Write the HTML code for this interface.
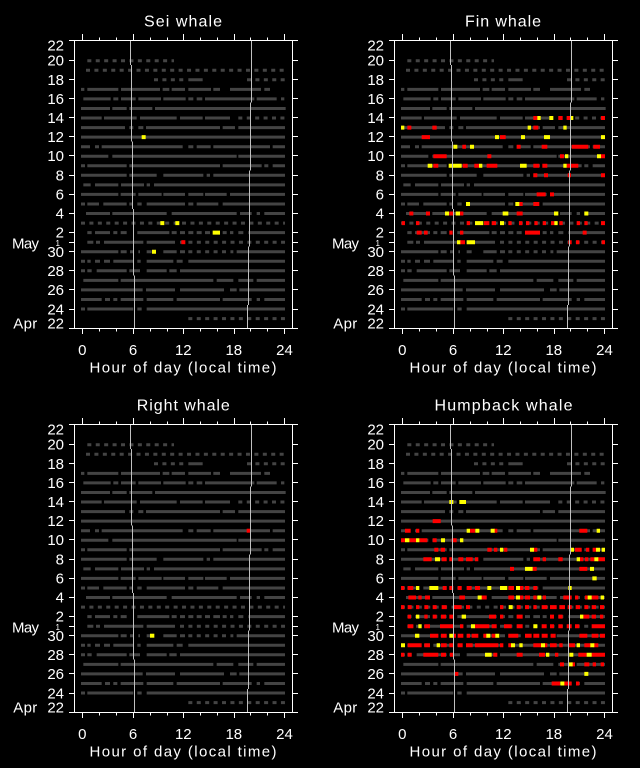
<!DOCTYPE html>
<html><head><meta charset="utf-8"><style>
html,body{margin:0;padding:0;background:#000;}
svg{display:block;}
text{font-family:"Liberation Sans",sans-serif;fill:#fff;}
</style></head><body>
<svg width="640" height="768" viewBox="0 0 640 768" xmlns="http://www.w3.org/2000/svg">
<rect width="640" height="768" fill="#000"/>
<defs>
<g id="rows" transform="scale(0.333333,1)">
<path fill="none" stroke="#444" stroke-width="3" d="M565 79.8H608
M243 89.4H253M262 89.4H355M363 89.4H480M488 89.4H508M515 89.4H555M565 89.4H633M640 89.4H660M690 89.4H783M793 89.4H810
M250 98.9H332M340 98.9H355M363 98.9H407M415 98.9H483M490 98.9H557M565 98.9H580M590 98.9H607M615 98.9H763M770 98.9H830M843 98.9H853
M243 108.5H330M337 108.5H380M388 108.5H457M465 108.5H857
M243 118H305M312 118H410M420 118H530M540 118H608M615 118H690
M243 127.6H375M388 127.6H400M415 127.6H430M438 127.6H660M668 127.6H705M715 127.6H855
M243 137.1H855
M243 146.7H270M285 146.7H297M305 146.7H548M565 146.7H580M590 146.7H632M640 146.7H810M818 146.7H855
M243 156.2H325M337 156.2H710M715 156.2H855
M243 165.8H255M262 165.8H380M388 165.8H660M668 165.8H785M793 165.8H805M818 165.8H855
M243 175.3H380M388 175.3H470M490 175.3H610M620 175.3H630M640 175.3H855
M250 184.9H272M285 184.9H355M363 184.9H432M440 184.9H450M462 184.9H855
M243 194.4H355M362 194.4H407M415 194.4H485M490 194.4H555M565 194.4H610M615 194.4H680M690 194.4H855
M243 204H255M262 204H297M310 204H380M388 204H398M412 204H425M440 204H555M565 204H580M590 204H655M668 204H855
M258 213.5H330M337 213.5H500M515 213.5H710M720 213.5H755M770 213.5H780M793 213.5H855
M262 232.6H275M285 232.6H330M340 232.6H352M362 232.6H380M412 232.6H508M515 232.6H530M540 232.6H555M565 232.6H580M590 232.6H605M615 232.6H630M640 232.6H660M668 232.6H680M690 232.6H700M715 232.6H730M745 232.6H855
M262 242.2H280M288 242.2H300M312 242.2H430M440 242.2H525
M243 251.7H355M362 251.7H380M390 251.7H400M415 251.7H420M440 251.7H455M490 251.7H530M540 251.7H555M710 251.7H855
M243 261.3H255M262 261.3H272M285 261.3H300M312 261.3H330M340 261.3H400M412 261.3H422M440 261.3H520M530 261.3H548M565 261.3H855
M243 270.8H255M262 270.8H275M290 270.8H380M388 270.8H420M440 270.8H500M508 270.8H530M540 270.8H855
M250 280.4H355M362 280.4H640M650 280.4H700M715 280.4H760M770 280.4H855
M243 289.9H428M438 289.9H525M540 289.9H672M690 289.9H710M718 289.9H855
M243 299.5H305M315 299.5H330M340 299.5H352M362 299.5H430M440 299.5H520M530 299.5H660M668 299.5H755M770 299.5H780M793 299.5H855
M243 309H255M262 309H400M412 309H425M440 309H855"/>
<path fill="none" stroke="#444" stroke-width="3" stroke-dasharray="12 13.26" d="M262 60.7H522M258 70.3H855M462 79.8H560M741 79.8H855M715 118H855M243 223.1H855M540 242.2H855M565 251.7H700M565 318.6H855"/>
</g>
<g id="axes" fill="none" shape-rendering="crispEdges">
<path stroke="#c0c0c0" stroke-width="1" d="M130.5 41V65M131.5 65V141.7M132.5 141.7V209M133.5 209V275.7M134.5 275.7V328
M251.5 41V102.7M250.5 102.7V170.7M249.5 170.7V246.7M248.5 246.7V305M247.5 305V328"/>
<rect x="74.5" y="40.5" width="218" height="288" stroke="#fff" stroke-width="1"/>
<path stroke="#fff" stroke-width="1" d="M69 40.5H74M69 60.5H74M69 79.5H74M69 98.5H74M69 117.5H74M69 136.5H74M69 155.5H74M69 175.5H74M69 194.5H74M69 213.5H74M69 232.5H74M69 242.5H74M69 251.5H74M69 270.5H74M69 289.5H74M69 309.5H74M69 328.5H74
M292 40.5H298M292 60.5H298M292 79.5H298M292 98.5H298M292 117.5H298M292 136.5H298M292 155.5H298M292 175.5H298M292 194.5H298M292 213.5H298M292 232.5H298M292 242.5H298M292 251.5H298M292 270.5H298M292 289.5H298M292 309.5H298M292 328.5H298
M82.5 40V34M99.5 40V37.5M116.5 40V37.5M133.5 40V34M150.5 40V37.5M167.5 40V37.5M183.5 40V34M200.5 40V37.5M217.5 40V37.5M234.5 40V34M250.5 40V37.5M267.5 40V37.5M284.5 40V34
M82.5 329V334M99.5 329V331.5M116.5 329V331.5M133.5 329V334M150.5 329V331.5M167.5 329V331.5M183.5 329V334M200.5 329V331.5M217.5 329V331.5M234.5 329V334M250.5 329V331.5M267.5 329V331.5M284.5 329V334"/>
</g>
</defs>

<use href="#rows"/>
<use href="#rows" transform="translate(320,0)"/>
<use href="#rows" transform="translate(0,384)"/>
<use href="#rows" transform="translate(320,384)"/>

<!-- Sei -->
<g transform="scale(0.333333,1)" fill="none" stroke-width="4">
<path stroke="#ff0" d="M425 137.1H437M481 223.1H493M526 223.1H538M638 232.6H660M456 251.7H468"/>
<path stroke="#f00" d="M544 242.2H556"/>
</g>
<!-- Right -->
<g transform="translate(0,384) scale(0.333333,1)" fill="none" stroke-width="4">
<path stroke="#f00" d="M740 146.7H752"/>
<path stroke="#ff0" d="M450 251.7H463"/>
</g>
<!-- Fin -->
<g transform="translate(320,0) scale(0.333333,1)" fill="none" stroke-width="4">
<path stroke="#f00" d="M640 118H652M715 118H728M740 118H750M843 118H855
M262 127.6H274M337 127.6H350M640 127.6H655
M305 137.1H330M540 137.1H557
M427 146.7H438M590 146.7H602M665 146.7H682M755 146.7H805M820 146.7H840
M340 156.2H380M502 156.2H514M720 156.2H732M842 156.2H855
M340 165.8H355M428 165.8H443M463 165.8H477M500 165.8H532M640 165.8H658M667 165.8H682M740 165.8H775
M640 175.3H652M672 175.3H684M743 175.3H753M843 175.3H855
M650 194.4H677M690 194.4H702
M598 204H608M640 204H658
M268 213.5H280M318 213.5H330M388 213.5H400M420 213.5H430M590 213.5H608
M245 223.1H255M288 223.1H298M440 223.1H450M492 223.1H508M515 223.1H528M565 223.1H575M597 223.1H607M618 223.1H628M643 223.1H653M668 223.1H678M693 223.1H703M718 223.1H728M770 223.1H780M793 223.1H803M843 223.1H855
M290 232.6H305M312 232.6H323M388 232.6H398M420 232.6H430M615 232.6H660M788 232.6H800
M420 242.2H435M745 242.2H755M768 242.2H778M845 242.2H855"/>
<path stroke="#ff0" d="M652 118H662M688 118H700M750 118H760
M243 127.6H253M623 127.6H633M730 127.6H740
M525 137.1H537M603 137.1H615M672 137.1H690M843 137.1H855
M400 146.7H412M450 146.7H462
M735 156.2H745M831 156.2H843
M323 165.8H337M386 165.8H425M477 165.8H487M600 165.8H620M730 165.8H740
M438 204H450M586 204H598
M375 213.5H387M407 213.5H420M548 213.5H565M702 213.5H715M793 213.5H805
M465 223.1H490M540 223.1H552M703 223.1H713
M411 242.2H421M440 242.2H465"/>
</g>
<!-- Humpback -->
<g transform="translate(320,384) scale(0.333333,1)" fill="none" stroke-width="4">
<path stroke="#f00" d="M338 137.1H362
M255 146.7H272M288 146.7H298M450 146.7H465M522 146.7H532M778 146.7H802
M243 156.2H255M268 156.2H288M298 156.2H322M338 156.2H350M395 156.2H410
M343 165.8H355M362 165.8H375M502 165.8H515M522 165.8H532M552 165.8H562M642 165.8H652M765 165.8H785M798 165.8H808M818 165.8H828
M310 175.3H335M365 175.3H380M388 175.3H398M415 175.3H430M438 175.3H458M465 175.3H475M640 175.3H660M668 175.3H678M715 175.3H728M778 175.3H790M795 175.3H805M811 175.3H823M832 175.3H855
M570 184.9H582M638 184.9H650M778 184.9H802
M243 204H253M263 204H280M368 204H380M388 204H400M413 204H425M440 204H455M465 204H480M565 204H582M598 204H610M615 204H628M640 204H652
M265 213.5H288M295 213.5H305M315 213.5H330M418 213.5H435M482 213.5H500M565 213.5H582M598 213.5H610M615 213.5H630M640 213.5H650M668 213.5H678M730 213.5H755M765 213.5H775M795 213.5H803M815 213.5H835
M243 223.1H253M263 223.1H275M288 223.1H298M313 223.1H325M338 223.1H350M365 223.1H380M400 223.1H425M438 223.1H450M540 223.1H550M590 223.1H602M615 223.1H627M640 223.1H650M665 223.1H682M690 223.1H710M718 223.1H735M743 223.1H755M767 223.1H780M793 223.1H805M815 223.1H828M840 223.1H852
M263 232.6H273M313 232.6H323M338 232.6H350M363 232.6H378M388 232.6H400M507 232.6H528M540 232.6H550M590 232.6H608M690 232.6H702M715 232.6H728M790 232.6H808M815 232.6H828M840 232.6H850
M263 242.2H280M313 242.2H330M360 242.2H400M420 242.2H430M465 242.2H508M515 242.2H530M552 242.2H575M590 242.2H608M665 242.2H680M690 242.2H702M715 242.2H728M740 242.2H755M765 242.2H778M815 242.2H855
M330 251.7H355M363 251.7H380M396 251.7H408M413 251.7H430M440 251.7H450M455 251.7H475M490 251.7H502M515 251.7H527M565 251.7H595M615 251.7H635M640 251.7H658M665 251.7H683M692 251.7H707M778 251.7H802M815 251.7H835M840 251.7H855
M263 261.3H305M313 261.3H330M363 261.3H380M388 261.3H400M413 261.3H428M438 261.3H458M465 261.3H535M540 261.3H550M565 261.3H575M640 261.3H665M670 261.3H682M690 261.3H710M718 261.3H728M745 261.3H765M793 261.3H813M820 261.3H835
M243 270.8H253M263 270.8H275M310 270.8H355M363 270.8H378M390 270.8H402M520 270.8H532M590 270.8H608M657 270.8H675M705 270.8H715M775 270.8H800M815 270.8H855
M720 280.4H732M753 280.4H765M793 280.4H808M818 280.4H828M842 280.4H852
M403 289.9H415
M695 299.5H720M730 299.5H755M768 299.5H778"/>
<path stroke="#ff0" d="M388 118H400M418 118H438
M440 146.7H450M466 146.7H478M512 146.7H524M830 146.7H840
M255 156.2H268M288 156.2H298M363 156.2H375M420 156.2H430
M540 165.8H550M630 165.8H642M750 165.8H762M828 165.8H840M845 165.8H855
M345 175.3H360M770 175.3H780M823 175.3H835
M615 184.9H638M810 184.9H822
M817 194.4H830
M288 204H298M328 204H355M502 204H514M540 204H562M588 204H600M745 204H755
M473 213.5H485M588 213.5H600M652 213.5H664M803 213.5H815M842 213.5H852
M566 223.1H578
M288 232.6H298M425 232.6H438M780 232.6H790
M295 242.2H305M453 242.2H465M640 242.2H652
M285 251.7H298M388 251.7H400M499 251.7H511M526 251.7H538
M243 261.3H255M350 261.3H360M573 261.3H585M598 261.3H608M663 261.3H675M770 261.3H780M811 261.3H823
M495 270.8H515M678 270.8H688M748 270.8H760M800 270.8H815
M746 280.4H758
M793 289.9H805
M721 299.5H733"/>
</g>

<use href="#axes"/>
<use href="#axes" transform="translate(320,0)"/>
<use href="#axes" transform="translate(0,384)"/>
<use href="#axes" transform="translate(320,384)"/>

<!-- Text panel 1 -->
<g font-size="15">
<text x="183" y="26.7" text-anchor="middle" font-size="16" textLength="78">Sei whale</text>
<g text-anchor="end">
<text x="64" y="50.3">22</text><text x="64" y="65.7">20</text><text x="64" y="85">18</text><text x="64" y="104">16</text><text x="64" y="123">14</text><text x="64" y="142">12</text><text x="64" y="161">10</text><text x="64" y="180.3">8</text><text x="64" y="199.7">6</text><text x="64" y="218.7">4</text><text x="64" y="237.7">2</text><text x="60" y="246" font-size="8">1</text><text x="64" y="257">30</text><text x="64" y="276">28</text><text x="64" y="295">26</text><text x="64" y="314.3">24</text><text x="64" y="328.3">22</text>
</g>
<text x="12" y="248.3" textLength="27">May</text>
<text x="13.3" y="328.3" textLength="24">Apr</text>
<g text-anchor="middle">
<text x="82.3" y="355">0</text><text x="133" y="355">6</text><text x="183.3" y="355">12</text><text x="233.8" y="355">18</text><text x="284.5" y="355">24</text>
<text x="183" y="372.7" textLength="187">Hour of day (local time)</text>
</g>
</g>

<!-- Text panel 2 -->
<g font-size="15" transform="translate(320,0)">
<text x="183" y="26.7" text-anchor="middle" font-size="16" textLength="76">Fin whale</text>
<g text-anchor="end">
<text x="64" y="50.3">22</text><text x="64" y="65.7">20</text><text x="64" y="85">18</text><text x="64" y="104">16</text><text x="64" y="123">14</text><text x="64" y="142">12</text><text x="64" y="161">10</text><text x="64" y="180.3">8</text><text x="64" y="199.7">6</text><text x="64" y="218.7">4</text><text x="64" y="237.7">2</text><text x="60" y="246" font-size="8">1</text><text x="64" y="257">30</text><text x="64" y="276">28</text><text x="64" y="295">26</text><text x="64" y="314.3">24</text><text x="64" y="328.3">22</text>
</g>
<text x="12" y="248.3" textLength="27">May</text>
<text x="13.3" y="328.3" textLength="24">Apr</text>
<g text-anchor="middle">
<text x="82.3" y="355">0</text><text x="133" y="355">6</text><text x="183.3" y="355">12</text><text x="233.8" y="355">18</text><text x="284.5" y="355">24</text>
<text x="183" y="372.7" textLength="187">Hour of day (local time)</text>
</g>
</g>

<!-- Text panel 3 -->
<g font-size="15" transform="translate(0,384)">
<text x="183.3" y="26.7" text-anchor="middle" font-size="16" textLength="93">Right whale</text>
<g text-anchor="end">
<text x="64" y="50.3">22</text><text x="64" y="65.7">20</text><text x="64" y="85">18</text><text x="64" y="104">16</text><text x="64" y="123">14</text><text x="64" y="142">12</text><text x="64" y="161">10</text><text x="64" y="180.3">8</text><text x="64" y="199.7">6</text><text x="64" y="218.7">4</text><text x="64" y="237.7">2</text><text x="60" y="246" font-size="8">1</text><text x="64" y="257">30</text><text x="64" y="276">28</text><text x="64" y="295">26</text><text x="64" y="314.3">24</text><text x="64" y="328.3">22</text>
</g>
<text x="12" y="248.3" textLength="27">May</text>
<text x="13.3" y="328.3" textLength="24">Apr</text>
<g text-anchor="middle">
<text x="82.3" y="355">0</text><text x="133" y="355">6</text><text x="183.3" y="355">12</text><text x="233.8" y="355">18</text><text x="284.5" y="355">24</text>
<text x="183" y="372.7" textLength="187">Hour of day (local time)</text>
</g>
</g>

<!-- Text panel 4 -->
<g font-size="15" transform="translate(320,384)">
<text x="183.5" y="26.7" text-anchor="middle" font-size="16" textLength="138">Humpback whale</text>
<g text-anchor="end">
<text x="64" y="50.3">22</text><text x="64" y="65.7">20</text><text x="64" y="85">18</text><text x="64" y="104">16</text><text x="64" y="123">14</text><text x="64" y="142">12</text><text x="64" y="161">10</text><text x="64" y="180.3">8</text><text x="64" y="199.7">6</text><text x="64" y="218.7">4</text><text x="64" y="237.7">2</text><text x="60" y="246" font-size="8">1</text><text x="64" y="257">30</text><text x="64" y="276">28</text><text x="64" y="295">26</text><text x="64" y="314.3">24</text><text x="64" y="328.3">22</text>
</g>
<text x="12" y="248.3" textLength="27">May</text>
<text x="13.3" y="328.3" textLength="24">Apr</text>
<g text-anchor="middle">
<text x="82.3" y="355">0</text><text x="133" y="355">6</text><text x="183.3" y="355">12</text><text x="233.8" y="355">18</text><text x="284.5" y="355">24</text>
<text x="183" y="372.7" textLength="187">Hour of day (local time)</text>
</g>
</g>
</svg>
</body></html>
